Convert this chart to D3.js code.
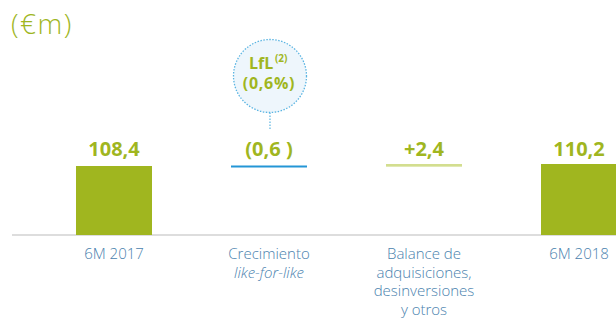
<!doctype html>
<html>
<head>
  <meta charset="utf-8">
  <title>Ventas 6M</title>
  <script src="https://d3js.org/d3.v7.min.js"></script>
  <style>
    body { margin: 0; background: #fff; }
    svg text { font-family: "Open Sans", Lato, sans-serif; }
  </style>
</head>
<body>
  <div id="chart"></div>

  <script>
    // data
    var categories = ["6M 2017", "Crecimiento like-for-like", "Balance adquisiciones", "6M 2018"];
    var values = [108.4, -0.6, 2.4, 110.2];
    var kinds = ["total", "delta", "delta", "total"];
    var valueLabels = ["108,4", "(0,6 )", "+2,4", "110,2"];
    var catLines = [
      [{ t: "6M 2017" }],
      [{ t: "Crecimiento" }, { t: "like-for-like", italic: true }],
      [{ t: "Balance de" }, { t: "adquisiciones," }, { t: "desinversiones" }, { t: "y otros" }],
      [{ t: "6M 2018" }]
    ];
    var lflText = ["LfL", "(2)", "(0,6%)"];

    var W = 616, H = 319;
    var green = "#a0b61f", lightGreen = "#d3de8f", blue = "#2496d6", catColor = "#4a82ae";

    var svg = d3.select("#chart").append("svg")
      .attr("width", W).attr("height", H);

    // waterfall start/end
    var run = 0;
    var rows = values.map(function (v, i) {
      var r;
      if (kinds[i] == "total") { r = { lo: 0, hi: v }; run = v; }
      else { r = { lo: Math.min(run, run + v), hi: Math.max(run, run + v) }; run += v; }
      r.i = i; r.kind = kinds[i]; r.v = v;
      return r;
    });

    // axis is cut: baseline isn't zero
    var y = d3.scaleLinear().domain([46.3, 110.2]).range([235, 164]);
    var x = d3.scaleBand().domain(categories).range([36.5, 656.5])
      .paddingInner(0.5097).paddingOuter(0.2548);

    function yLo(d) { return d.kind == "total" ? 235 : y(d.lo); }

    // baseline
    svg.append("line")
      .attr("x1", 12).attr("x2", W)
      .attr("y1", 235).attr("y2", 235)
      .attr("stroke", "#dddddd").attr("stroke-width", 2);

    svg.selectAll(".bar").data(rows).enter().append("rect")
      .attr("class", "bar")
      .attr("x", function (d) { return x(categories[d.i]); })
      .attr("width", x.bandwidth())
      .attr("y", function (d) {
        var h = yLo(d) - y(d.hi);
        return h < 2 ? y(d.hi) - 0.5 : y(d.hi);
      })
      .attr("height", function (d) { return Math.max(2, yLo(d) - y(d.hi)); })
      .attr("fill", function (d) {
        if (d.kind == "total") return green;
        return d.v < 0 ? blue : lightGreen;
      });

    // value labels
    svg.selectAll(".val").data(rows).enter().append("text")
      .attr("class", "val")
      .attr("x", function (d) { return x(categories[d.i]) + x.bandwidth() / 2; })
      .attr("y", 156)
      .attr("text-anchor", "middle")
      .attr("font-size", 20).attr("font-weight", 700)
      .attr("fill", green)
      .text(function (d) { return valueLabels[d.i]; });

    // category labels
    catLines.forEach(function (lines, i) {
      var cx = x(categories[i]) + x.bandwidth() / 2;
      lines.forEach(function (ln, j) {
        svg.append("text")
          .attr("x", cx).attr("y", 259 + j * 18.5)
          .attr("text-anchor", "middle")
          .attr("font-size", 15).attr("font-weight", 300)
          .attr("font-style", ln.italic ? "italic" : "normal")
          .attr("fill", catColor)
          .text(ln.t);
      });
    });

    // unit
    svg.append("text")
      .attr("x", 11).attr("y", 34)
      .attr("font-size", 28).attr("font-weight", 300)
      .attr("letter-spacing", 1.5)
      .attr("fill", green)
      .text("(€m)");

    // LfL bubble above the like-for-like step
    var bx = x(categories[1]) + x.bandwidth() / 2 + 1, by = 76, br = 36.5;
    svg.append("line")
      .attr("x1", bx).attr("x2", bx)
      .attr("y1", by + br).attr("y2", 130)
      .attr("stroke", "#5ab4e2").attr("stroke-width", 1.2)
      .attr("stroke-dasharray", "1.5,1.5");
    svg.append("circle")
      .attr("cx", bx).attr("cy", by).attr("r", br)
      .attr("fill", "#eef6fc")
      .attr("stroke", "#5ab4e2").attr("stroke-width", 1.3)
      .attr("stroke-dasharray", "1.5,1.5");
    svg.append("text")
      .attr("x", bx - 21).attr("y", 69)
      .attr("font-size", 16).attr("font-weight", 700)
      .attr("fill", green)
      .text(lflText[0]);
    svg.append("text")
      .attr("x", bx + 5).attr("y", 62)
      .attr("font-size", 10).attr("font-weight", 700)
      .attr("fill", green)
      .text(lflText[1]);
    svg.append("text")
      .attr("x", bx - 1).attr("y", 89)
      .attr("text-anchor", "middle")
      .attr("font-size", 16).attr("font-weight", 700)
      .attr("letter-spacing", 0.7)
      .attr("fill", green)
      .text(lflText[2]);
  </script>
</body>
</html>
